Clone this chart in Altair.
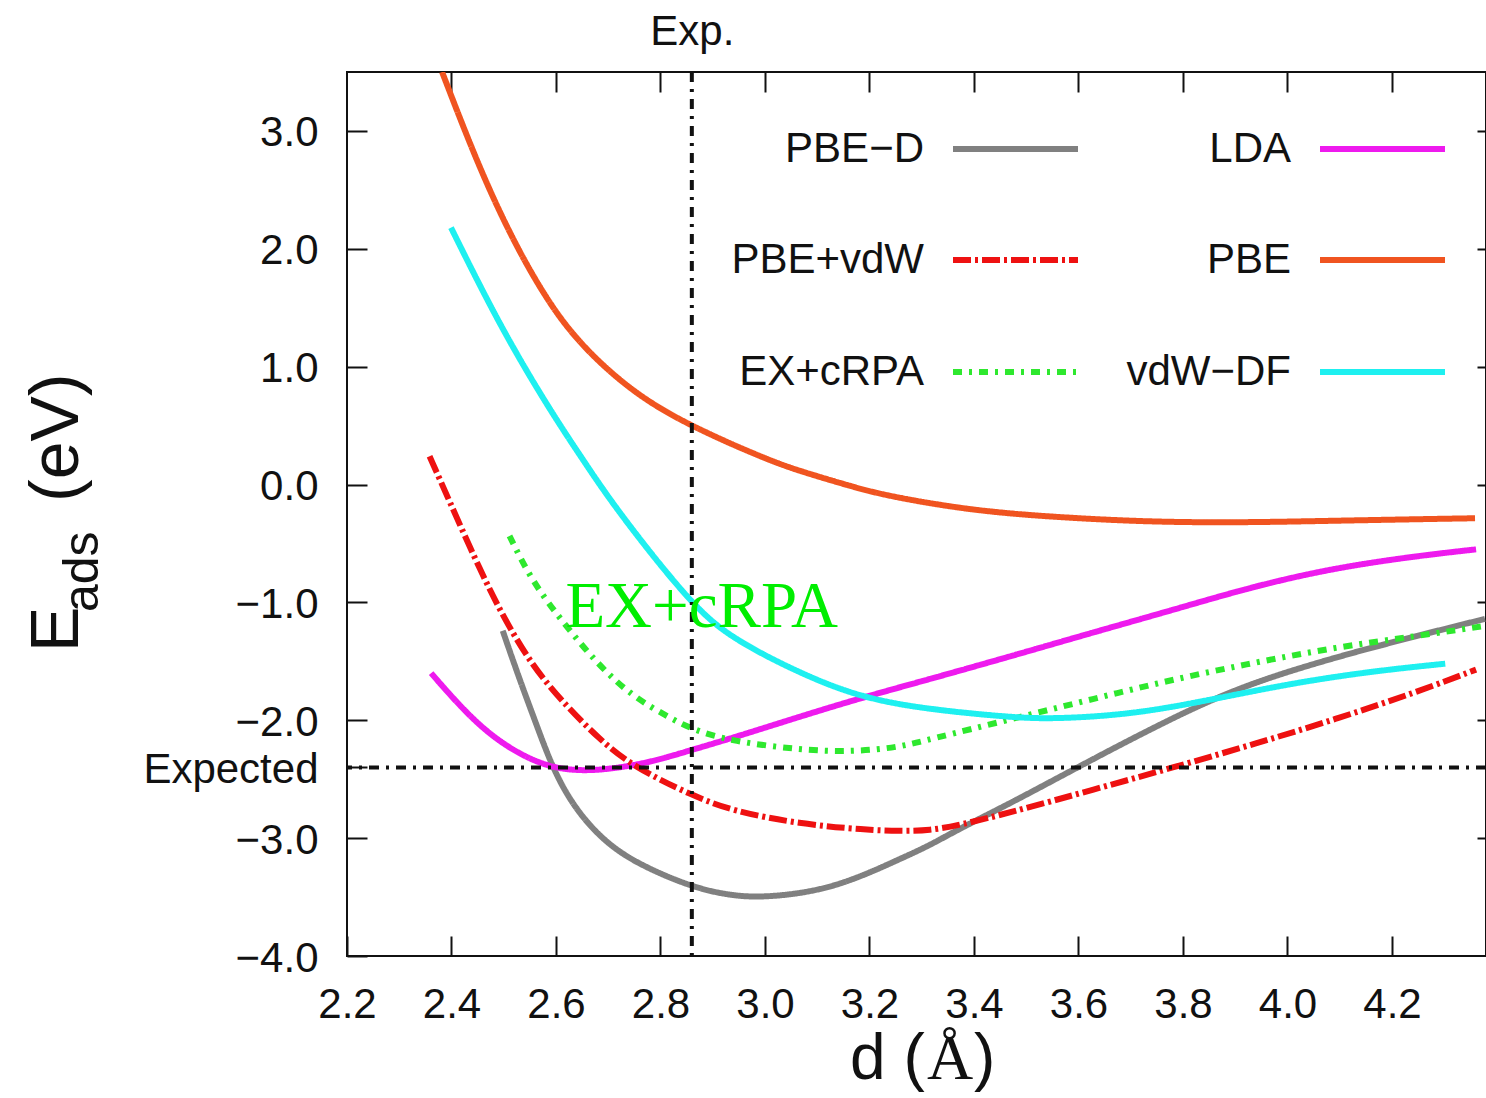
import altair as alt
import pandas as pd

# ---- series: adsorption energy E_ads (eV) versus distance d (Å) ----
methods = ["PBE−D", "LDA", "PBE+vdW", "PBE", "EX+cRPA", "vdW−DF"]
colors = ["#808080", "#ee1aee", "#ee1111", "#f05420", "#2ee82e", "#1ef0f0"]
dashes = [[1, 0], [1, 0], [18, 4, 3, 4], [1, 0], [9, 7, 3, 7], [1, 0]]

pbe_d_d = [2.498, 2.53, 2.562, 2.593, 2.631, 2.683, 2.746, 2.861, 2.938, 3.002,
           3.129, 3.257, 3.316, 3.372, 3.472, 3.627, 3.784, 3.899, 4.015, 4.17, 4.378]
pbe_d_e = [-1.24, -1.65, -2.03, -2.40, -2.715, -2.99, -3.20, -3.42, -3.49, -3.505,
           -3.435, -3.18, -3.06, -2.92, -2.70, -2.33, -1.97, -1.74, -1.565, -1.37, -1.14]

lda_d = [2.361, 2.428, 2.492, 2.568, 2.632, 2.696, 2.778, 2.861, 2.938, 3.066,
         3.184, 3.316, 3.472, 3.627, 3.784, 3.938, 4.093, 4.248, 4.361]
lda_e = [-1.60, -1.94, -2.19, -2.375, -2.43, -2.42, -2.36, -2.25, -2.15, -1.97,
         -1.81, -1.65, -1.455, -1.256, -1.06, -0.86, -0.705, -0.606, -0.55]

pbe_vdw_d = [2.358, 2.396, 2.443, 2.491, 2.554, 2.620, 2.683, 2.746, 2.861, 2.938,
             3.066, 3.193, 3.257, 3.316, 3.372, 3.472, 3.627, 3.782, 3.938, 4.093,
             4.248, 4.361]
pbe_vdw_e = [0.24, -0.14, -0.61, -1.06, -1.54, -1.88, -2.16, -2.39, -2.64, -2.77,
             -2.88, -2.93, -2.94, -2.935, -2.89, -2.78, -2.59, -2.40, -2.20, -1.99,
             -1.76, -1.57]

pbe_d = [2.382, 2.449, 2.511, 2.572, 2.638, 2.746, 2.855, 3.002, 3.066, 3.161,
         3.233, 3.400, 3.567, 3.735, 3.902, 4.070, 4.237, 4.359]
pbe_e = [3.50, 2.73, 2.13, 1.64, 1.22, 0.78, 0.50, 0.215, 0.115, -0.01,
         -0.097, -0.224, -0.28, -0.317, -0.323, -0.309, -0.295, -0.286]

ex_crpa_d = [2.511, 2.555, 2.619, 2.683, 2.746, 2.810, 2.861, 2.938, 3.066, 3.161,
             3.257, 3.316, 3.472, 3.627, 3.784, 3.938, 4.093, 4.248, 4.378]
ex_crpa_e = [-0.436, -0.83, -1.20, -1.54, -1.795, -1.96, -2.08, -2.18, -2.25, -2.27,
             -2.23, -2.16, -1.99, -1.82, -1.65, -1.51, -1.38, -1.285, -1.20]

vdw_df_d = [2.399, 2.492, 2.587, 2.651, 2.715, 2.861, 2.938, 3.066, 3.184, 3.316,
            3.472, 3.550, 3.705, 3.860, 4.015, 4.170, 4.302]
vdw_df_e = [2.18, 1.35, 0.64, 0.215, -0.21, -1.03, -1.31, -1.60, -1.81, -1.91,
            -1.975, -1.99, -1.95, -1.82, -1.68, -1.58, -1.52]

# reference markers: experimental distance and expected energy
exp_d = [2.86]
expected_e = [-2.4]

x_ticks = [2.2, 2.4, 2.6, 2.8, 3.0, 3.2, 3.4, 3.6, 3.8, 4.0, 4.2]
y_ticks = [3.0, 2.0, 1.0, 0.0, -1.0, -2.0, -2.4, -3.0, -4.0]
y_ticks_right = [3.0, 2.0, 1.0, 0.0, -1.0, -2.0, -3.0]

y_title_parts = ["E", "ads", "(eV)"]
x_title_parts = ["d (", "Å", ")"]
overlay_text = ["EX+cRPA"]

# ---- build tables ----
series = [
    (methods[0], pbe_d_d, pbe_d_e),
    (methods[1], lda_d, lda_e),
    (methods[2], pbe_vdw_d, pbe_vdw_e),
    (methods[3], pbe_d, pbe_e),
    (methods[4], ex_crpa_d, ex_crpa_e),
    (methods[5], vdw_df_d, vdw_df_e),
]
rows = []
for name, ds, es in series:
    for d, e in zip(ds, es):
        rows.append({"method": name, "d": d, "E": e})
df = pd.DataFrame(rows)

W, H = 1139, 884
FONT = "Liberation Sans"
SERIF = "Liberation Serif"
INK = "#111111"

xscale = alt.Scale(domain=[2.2, 4.38], nice=False, zero=False)
yscale = alt.Scale(domain=[-4.0, 3.5], nice=False, zero=False)
color_scale = alt.Scale(domain=methods, range=colors)
dash_scale = alt.Scale(domain=methods, range=dashes)

tick_style = dict(tickColor=INK, tickWidth=2, domain=False, grid=False,
                  labelFont=FONT, labelFontSize=42, labelColor=INK,
                  labelOverlap=False, labelFlush=False, title=None)

bottom_axis = alt.Axis(orient="bottom", values=x_ticks, format=".1f",
                       offset=-20, tickSize=20, labelPadding=28, **tick_style)
left_axis = alt.Axis(orient="left", values=y_ticks, offset=-20, tickSize=20,
                     labelPadding=29, labelOffset=2,
                     labelExpr="datum.value == -2.4 ? 'Expected' : format(datum.value, '.1f')",
                     **tick_style)
top_axis = alt.Axis(orient="top", values=x_ticks[1:] + exp_d, offset=-20, tickSize=20,
                    labelPadding=19,
                    labelExpr="datum.value == 2.86 ? 'Exp.' : ''",
                    tickOpacity={"condition": {"test": "datum.value == 2.86", "value": 0}, "value": 1},
                    **tick_style)
right_axis = alt.Axis(orient="right", values=y_ticks_right, offset=-9, tickSize=9,
                      labels=False, **tick_style)

curves = alt.Chart(df).mark_line(strokeWidth=6, clip=True, interpolate="basis").encode(
    x=alt.X("d:Q", scale=xscale, axis=bottom_axis),
    y=alt.Y("E:Q", scale=yscale, axis=left_axis),
    color=alt.Color("method:N", scale=color_scale, legend=None),
    strokeDash=alt.StrokeDash("method:N", scale=dash_scale, legend=None),
)

ref_style = dict(color=INK, strokeWidth=4, strokeDash=[10, 7, 3, 7])
vline = alt.Chart(pd.DataFrame({"d": exp_d})).mark_rule(**ref_style).encode(
    x=alt.X("d:Q", scale=xscale, axis=top_axis)
)
hline = alt.Chart(pd.DataFrame({"E": expected_e})).mark_rule(**ref_style).encode(
    y=alt.Y("E:Q", scale=yscale, axis=right_axis)
)

# ---- key: two columns, three rows, label left of its line sample ----
key_rows = []
for i, name in enumerate(methods):
    col, row = i % 2, i // 2
    key_rows.append({
        "method": name,
        "tx": [577, 944][col],
        "lx1": [606, 973][col],
        "lx2": [606, 973][col] + 125,
        "ly": [77, 188, 300][row],
    })
key_df = pd.DataFrame(key_rows)

key_text = alt.Chart(key_df).mark_text(
    align="right", baseline="middle", font=FONT, fontSize=42, color=INK
).encode(
    x=alt.X("tx:Q", scale=None, axis=None),
    y=alt.Y("ly:Q", scale=None, axis=None),
    text="method:N",
)
key_lines = alt.Chart(key_df).mark_rule(strokeWidth=6).encode(
    x=alt.X("lx1:Q", scale=None, axis=None),
    x2="lx2:Q",
    y=alt.Y("ly:Q", scale=None, axis=None),
    color=alt.Color("method:N", scale=color_scale, legend=None),
    strokeDash=alt.StrokeDash("method:N", scale=dash_scale, legend=None),
)

# ---- green annotation over the curves ----
overlay = alt.Chart(pd.DataFrame({"t": overlay_text, "d": [2.618], "E": [-1.21]})).mark_text(
    align="left", baseline="alphabetic", font=SERIF, fontSize=65, color="#00ee00"
).encode(
    x=alt.X("d:Q", scale=xscale, axis=None),
    y=alt.Y("E:Q", scale=yscale, axis=None),
    text="t:N",
)

# ---- axis titles (subscript and mixed fonts) ----
def label(txt, px, py, size, font=FONT, angle=0):
    kw = dict(align="left", baseline="alphabetic", font=font, fontSize=size, color=INK)
    if angle:
        kw["angle"] = angle
    return alt.Chart(pd.DataFrame({"t": [txt]})).mark_text(**kw).encode(
        x=alt.value(px), y=alt.value(py), text="t:N"
    )

y_title = [
    label(y_title_parts[0], -269, 580, 68, angle=270),
    label(y_title_parts[1], -249, 540, 50, angle=270),
    label(y_title_parts[2], -269, 430, 68, angle=270),
]
x_title = [
    label(x_title_parts[0], 503, 1007, 64),
    label(x_title_parts[1], 580, 1007, 64, font=SERIF),
    label(x_title_parts[2], 627, 1007, 64),
]

chart = alt.layer(
    curves, vline, hline, key_lines, key_text, overlay, *y_title, *x_title
).resolve_axis(
    x="independent", y="independent"
).properties(
    width=W, height=H,
    autosize=alt.AutoSizeParams(type="none"),
    padding={"left": 347, "top": 72, "right": 0, "bottom": 142},
    background="white",
).configure_view(
    stroke=INK, strokeWidth=2
)

chart.save("out.html", embed_options={"renderer": "svg", "actions": False})
